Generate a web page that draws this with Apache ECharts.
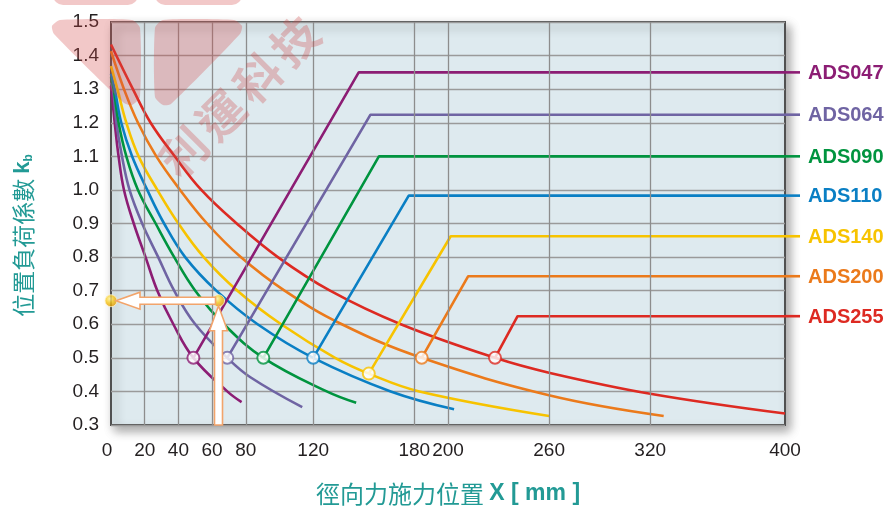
<!DOCTYPE html>
<html><head><meta charset="utf-8">
<script src="https://cdn.jsdelivr.net/npm/echarts@6/dist/echarts.min.js"></script>
<style>html,body{margin:0;padding:0;background:#fff}#c{width:890px;height:506px}</style>
</head><body><div id="c"></div>
<script>
// ---------- data ----------
const xTicks = [0, 20, 40, 60, 80, 120, 180, 200, 260, 320, 400];
const yTicksMin = 0.3, yTicksMax = 1.5, yStep = 0.1;
const models = ['ADS047', 'ADS064', 'ADS090', 'ADS110', 'ADS140', 'ADS200', 'ADS255'];

const curve047 = [[0,1.31],[2.2,1.2],[4.5,1.1],[7.7,1.0],[13.5,0.9],[20.5,0.8],[27.5,0.7],[37,0.6],[48.9,0.5],[69,0.4],[77.5,0.368]];
const curve064 = [[0,1.32],[1.2,1.3],[3.2,1.2],[6.5,1.1],[11,1.0],[18.5,0.9],[28,0.8],[37.5,0.7],[50,0.6],[69,0.5],[82.5,0.443],[113.5,0.353]];
const curve090 = [[0,1.336],[1.6,1.3],[4.5,1.2],[9.1,1.1],[16,1.0],[26.5,0.9],[37.5,0.8],[50,0.7],[67,0.6],[90.4,0.5],[128,0.4],[145.5,0.366]];
const curve110 = [[0,1.346],[2.2,1.3],[6.1,1.2],[12.5,1.1],[21.5,1.0],[31.5,0.9],[44,0.8],[62.5,0.7],[87,0.6],[120,0.5],[166,0.4],[203.6,0.347]];
const curve140 = [[0,1.369],[3.8,1.3],[9.1,1.2],[16.4,1.1],[27.5,1.0],[40,0.9],[55,0.8],[75,0.7],[101,0.6],[133,0.5],[153,0.453],[183,0.4],[260,0.327]];
const curve200 = [[0,1.413],[7.7,1.3],[16,1.2],[26.9,1.1],[41,1.0],[57,0.9],[77,0.8],[103,0.7],[137,0.6],[184.4,0.5],[260.5,0.388],[328,0.327]];
const curve255 = [[0,1.433],[13,1.3],[23.5,1.2],[37.8,1.1],[53.6,1.0],[74.6,0.9],[99,0.8],[130,0.7],[172,0.6],[227.9,0.5],[260.5,0.455],[320,0.393],[400,0.334]];

const markerX = [48.9, 69, 90.4, 120, 153, 184.4, 227.9];
const markerK = [0.5, 0.5, 0.5, 0.5, 0.453, 0.5, 0.5];
const kneeX = [147, 154, 159, 176.7, 201.6, 212, 241.3];
const plateauK = [1.35, 1.224, 1.10, 0.983, 0.862, 0.743, 0.624];

const exampleX = 63.8;
const exampleK = 0.67;

const xAxisName = '徑向力施力位置';
const xAxisUnit = 'X [ mm ]';
const yAxisName = '位置負荷係數';

// ---------- styling ----------
const curves = [curve047, curve064, curve090, curve110, curve140, curve200, curve255];
const colors = ['#8c1d74', '#6f64a3', '#00943f', '#0a7fc4', '#f7c300', '#eb7a1b', '#dd2a22'];
const teal = '#229a95';
const numFont = '"Liberation Sans", Arial, sans-serif';
const cjkFont = '"Noto Sans CJK TC", "Noto Sans", sans-serif';
const xMax = xTicks[xTicks.length - 1];

const chart = echarts.init(document.getElementById('c'), null, {renderer: 'canvas'});

const series = [];
series.push({
  type: 'line', data: [], z: 1, silent: true,
  markLine: {
    silent: true, symbol: 'none', animation: false,
    label: {show: false},
    lineStyle: {color: '#8d8d8d', width: 1.3, type: 'solid'},
    data: xTicks.filter(v => v > 0 && v < xMax).map(v => ({xAxis: v}))
  }
});
curves.forEach((c, i) => {
  series.push({
    type: 'line', data: c, smooth: 0.4,
    symbol: 'none', showSymbol: false, silent: true, z: 3,
    lineStyle: {color: colors[i], width: 2.6}
  });
});
models.forEach((m, i) => {
  series.push({
    type: 'line', name: m, symbol: 'none', showSymbol: false, silent: true, z: 3,
    data: [[markerX[i], markerK[i]], [kneeX[i], plateauK[i]], [xMax, plateauK[i]]],
    lineStyle: {color: colors[i], width: 2.6}
  });
  series.push({
    type: 'scatter', data: [[markerX[i], markerK[i]]], symbol: 'circle', symbolSize: 12, z: 5, silent: true,
    itemStyle: {color: '#ffffff', borderColor: colors[i], borderWidth: 2}
  });
});
series.push({
  type: 'scatter', data: [[exampleX, exampleK], [0, exampleK]], clip: false, symbolSize: 12, z: 8, silent: true,
  itemStyle: {
    color: {type: 'radial', x: 0.4, y: 0.35, r: 0.7, colorStops: [{offset: 0, color: '#fff59a'}, {offset: 0.45, color: '#f8c81a'}, {offset: 1, color: '#dc8d00'}]},
    borderColor: '#fff3c8', borderWidth: 1
  }
});

chart.setOption({
  animation: false,
  backgroundColor: '#ffffff',
  grid: {
    left: 111, right: 105, top: 22, bottom: 81, show: true, containLabel: false, outerBoundsMode: 'none',
    backgroundColor: '#deeaef', borderColor: '#505050', borderWidth: 2,
    shadowColor: 'rgba(0,0,0,0.35)', shadowBlur: 10, shadowOffsetX: 4, shadowOffsetY: 5
  },
  xAxis: {
    type: 'value', min: 0, max: xMax,
    axisLine: {show: false}, axisTick: {show: false}, splitLine: {show: false},
    axisLabel: {
      customValues: xTicks, color: '#231f20', fontSize: 19, fontFamily: numFont, margin: 16,
      formatter: v => v === 0 ? '{z|0}' : String(v),
      rich: {z: {color: '#231f20', fontSize: 19, fontFamily: numFont, padding: [0, 8, 0, 0]}}
    },
    name: '{a|' + xAxisName + ' }{b|' + xAxisUnit + '}', nameLocation: 'middle', nameGap: 57,
    nameTextStyle: {
      rich: {
        a: {fontFamily: cjkFont, fontSize: 24, color: teal},
        b: {fontFamily: numFont, fontSize: 23, fontWeight: 'bold', color: teal}
      }
    }
  },
  yAxis: {
    type: 'value', min: yTicksMin, max: yTicksMax, interval: yStep,
    axisLine: {show: false}, axisTick: {show: false},
    splitLine: {show: true, lineStyle: {color: '#9a9a9a', width: 1.3}},
    axisLabel: {color: '#231f20', fontSize: 19, fontFamily: numFont, margin: 12, formatter: v => v.toFixed(1)},
    name: '{a|' + yAxisName + ' }{k|k}{s|b}', nameLocation: 'middle', nameRotate: 90, nameGap: 76,
    nameTextStyle: {
      padding: [0, 24, 0, 0],
      rich: {
        a: {fontFamily: cjkFont, fontSize: 23, color: teal},
        k: {fontFamily: numFont, fontSize: 22, fontWeight: 'bold', color: teal},
        s: {fontFamily: numFont, fontSize: 12, fontWeight: 'bold', color: teal, padding: [12, 0, 0, 0]}
      }
    }
  },
  series: series
});

// ---------- annotations (leaders, labels, arrows, watermark) ----------
function px(pt) { return chart.convertToPixel({gridIndex: 0}, pt); }
const graphics = [];
models.forEach((m, i) => {
  const p = px([xMax, plateauK[i]]);
  graphics.push({type: 'line', silent: true, z: 20, shape: {x1: p[0], y1: p[1], x2: p[0] + 15, y2: p[1]}, style: {stroke: colors[i], lineWidth: 2.6}});
  graphics.push({type: 'text', silent: true, z: 20, x: p[0] + 23, y: p[1] + 1,
    style: {text: m, fill: colors[i], font: 'bold 20px "Liberation Sans", Arial, sans-serif', align: 'left', verticalAlign: 'middle'}});
});

const pDot = px([exampleX, exampleK]);
const pAxis = px([0, exampleK]);
const pBottom = px([exampleX, yTicksMin]);
const arrowStyle = {fill: '#ffffff', stroke: '#f2a46b', lineWidth: 1.6};
const cx = pDot[0], tipY = pDot[1] + 5, hb = tipY + 25, bot = pBottom[1];
const vArrow = [[cx - 4, bot], [cx - 4, hb], [cx - 9, hb], [cx, tipY], [cx + 9, hb], [cx + 4, hb], [cx + 4, bot]];
const cy = pDot[1], rgt = pDot[0] - 3, tipX = pAxis[0] + 5, hb2 = tipX + 24;
const hArrow = [[rgt, cy - 3.5], [hb2, cy - 3.5], [hb2, cy - 8.5], [tipX, cy], [hb2, cy + 8.5], [hb2, cy + 3.5], [rgt, cy + 3.5]];
graphics.push({type: 'polygon', silent: true, z: 20, shape: {points: vArrow}, style: arrowStyle});
graphics.push({type: 'polygon', silent: true, z: 20, shape: {points: hArrow}, style: arrowStyle});

const wm = 'rgba(212,72,72,0.30)';
graphics.push(
  {type: 'rect', silent: true, z: 10, shape: {x: 53, y: -20, width: 85, height: 25, r: [0, 0, 10, 10]}, style: {fill: wm}},
  {type: 'rect', silent: true, z: 10, shape: {x: 155, y: -20, width: 87, height: 25, r: [0, 0, 10, 10]}, style: {fill: wm}},
  {type: 'polygon', silent: true, z: 10, shape: {points: [[60, 20], [132, 20], [140, 28], [140, 97], [132, 105], [124, 103], [54, 34], [52, 26]], smooth: 0.2}, style: {fill: wm}},
  {type: 'polygon', silent: true, z: 10, shape: {points: [[163, 20], [234, 20], [242, 26], [240, 34], [171, 104], [163, 105], [155, 97], [155, 28]], smooth: 0.2}, style: {fill: wm}}
);
const wmChars = ['利', '運', '科', '技'];
const wmPos = [[184, 152], [221, 115], [258, 78], [295, 41]];
wmChars.forEach((ch, i) => {
  graphics.push({
    type: 'text', silent: true, z: 10, x: wmPos[i][0], y: wmPos[i][1], rotation: Math.PI / 4,
    style: {text: ch, fill: 'rgba(205,70,70,0.30)', font: 'bold 46px "Noto Sans CJK TC"', align: 'center', verticalAlign: 'middle'}
  });
});
chart.setOption({graphic: graphics});
</script></body></html>
